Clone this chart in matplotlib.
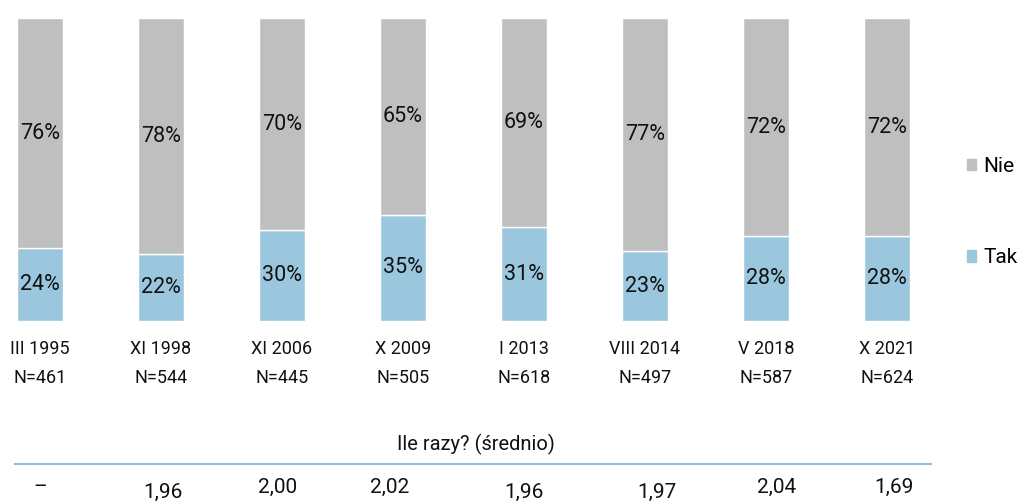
import matplotlib
matplotlib.use('Agg')
import matplotlib.pyplot as plt
from matplotlib.patches import Patch

plt.rcParams['font.family'] = ['Roboto', 'DejaVu Sans']

periods = ['III 1995', 'XI 1998', 'XI 2006', 'X 2009', 'I 2013', 'VIII 2014', 'V 2018', 'X 2021']
sizes = ['N=461', 'N=544', 'N=445', 'N=505', 'N=618', 'N=497', 'N=587', 'N=624']
tak = [24, 22, 30, 35, 31, 23, 28, 28]
nie = [76, 78, 70, 65, 69, 77, 72, 72]
avg_times = ['–', '1,96', '2,00', '2,02', '1,96', '1,97', '2,04', '1,69']

# small layout tweaks for the bottom row (pixels)
avg_dx = [0, 2, -4, -13, 0, 12, 11, 7]
avg_low = [False, True, False, False, True, True, False, False]

W, H = 1021, 501
c_tak = '#9BC7DE'
c_nie = '#BFBFBF'
c_text = '#111111'


def fy(py):
    return (H - py) / H


def fx(px):
    return px / W


fig = plt.figure(figsize=(W / 100, H / 100), dpi=100)
ax = fig.add_axes([0, fy(321), 1, (321 - 18) / H])
x0, step = 40, 121
ax.set_xlim(-x0 / step, (W - x0) / step)
ax.set_ylim(0, 100)
ax.axis('off')

xs = list(range(len(periods)))
ax.bar(xs, tak, width=46 / step, color=c_tak, edgecolor='white', linewidth=1)
ax.bar(xs, nie, bottom=tak, width=46 / step, color=c_nie, edgecolor='white', linewidth=1)

for i in xs:
    ax.text(i, tak[i] / 2, '%d%%' % tak[i], ha='center', va='center', fontsize=15.5, color=c_text)
    ax.text(i, tak[i] + nie[i] / 2, '%d%%' % nie[i], ha='center', va='center', fontsize=15.5, color=c_text)
    px = x0 + step * i
    fig.text(fx(px), fy(349), periods[i], ha='center', va='center', fontsize=13, color=c_text)
    fig.text(fx(px), fy(378), sizes[i], ha='center', va='center', fontsize=13, color=c_text)
    if avg_times[i] == '–':
        fig.text(fx(px + avg_dx[i]), fy(488), avg_times[i], ha='center', va='center', fontsize=15, color=c_text)
    else:
        top = 483 if avg_low[i] else 478
        fig.text(fx(px + avg_dx[i]), fy(top), avg_times[i], ha='center', va='top', fontsize=15, color=c_text)

fig.text(fx(476), fy(444), 'Ile razy? (średnio)', ha='center', va='center', fontsize=14.5, color=c_text)
fig.add_artist(plt.Line2D([fx(15), fx(931)], [fy(464), fy(464)], color='#8FC0D8', linewidth=1.5))

handles = [Patch(color=c_nie, label='Nie'), Patch(color=c_tak, label='Tak')]
fig.legend(handles=handles, loc='center left', bbox_to_anchor=(fx(967), fy(212)),
           frameon=False, fontsize=15, handlelength=0.45, handleheight=0.45,
           handletextpad=0.35, labelspacing=3.5, borderpad=0, borderaxespad=0)

fig.savefig('out.png', dpi=100)
